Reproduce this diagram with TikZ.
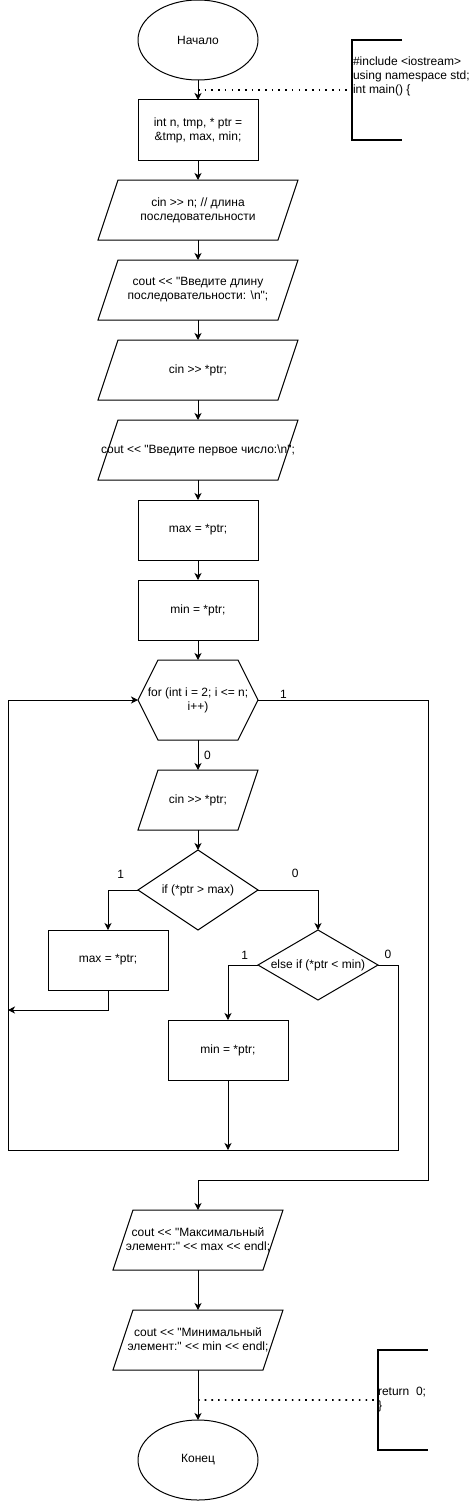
\documentclass[tikz,border=0pt]{standalone}
\usepackage{fontspec}
\newfontfamily\diafont{Liberation Sans}
\usetikzlibrary{arrows.meta, calc, positioning, shapes.geometric}
% slanted outline round a data node
\newcommand{\slantbox}[1]{\draw[outline] ([xshift=-10pt]#1.south west) -- ([xshift=10pt]#1.north west)
    -- ([xshift=10pt]#1.north east) -- ([xshift=-10pt]#1.south east) -- cycle;}

\begin{document}
\begin{tikzpicture}[
    x=1pt, y=-1pt,
    >={Stealth[length=7pt, width=7pt, inset=2pt]},
    every node/.style={font=\diafont\fontsize{12pt}{14pt}\selectfont,
                 inner sep=0pt, outer sep=0pt},
    outline/.style={line width=1pt},
    term/.style ={draw, ellipse, outline, minimum width=120pt, minimum height=80pt},
    proc/.style ={draw, outline, align=center, minimum width=120pt, minimum height=60pt},
    io/.style   ={align=center, minimum width=180pt, minimum height=60pt},
    cycle/.style={align=center, minimum width=120pt, minimum height=80pt},
    test/.style ={draw, diamond, outline, minimum width=120pt, minimum height=80pt},
    note/.style ={minimum width=50pt, minimum height=100pt},
    flow/.style ={->, line width=1pt},
    dots/.style ={line width=1.6pt, dash pattern=on 1.6pt off 5.1pt},
    bracket/.style={line width=2pt},
]
\useasboundingbox (0,0) rectangle (472,1501);
\node[term] (start) at (198,40) {Начало};
\node[proc, below=20pt of start]     (init)      {int n, tmp, * ptr =\\\&tmp, max, min;};
\node[io,   below=20pt of init]      (readn)     {cin >{}> n; // длина\\последовательности};
\node[io,   below=20pt of readn]     (asklen)    {cout <{}< "Введите длину\\последовательности: \textbackslash n";};
\node[io,   below=20pt of asklen]    (readfirst) {cin >{}> *ptr;};
\node[io,   below=20pt of readfirst] (askfirst)  {\makebox[0pt]{cout <{}< "Введите первое число:\textbackslash n";}};
\node[proc, below=20pt of askfirst]  (setmax)    {max = *ptr;};
\node[proc, below=20pt of setmax]    (setmin)    {min = *ptr;};
\node[cycle, below=20pt of setmin]   (forloop)   {for (int i = 2; i <= n;\\i++)};
\node[io,   below=30pt of forloop, minimum width=100pt] (readnext) {cin >{}> *ptr;};
\node[test, below=20pt of readnext]  (ifmax)     {\makebox[0pt]{if (*ptr > max)}};
\node[proc, below=40pt of ifmax.west, xshift=-30pt] (newmax) {max = *ptr;};
\node[test, below=40pt of ifmax.east, xshift=60pt, minimum height=70pt] (elsemin)
        {\makebox[0pt]{else if (*ptr < min)}};
\node[proc, below=55pt of elsemin.west, xshift=-30pt] (newmin) {min = *ptr;};
\node[io,   below=470pt of forloop, minimum width=150pt] (outmax)
        {cout <{}< "Максимальный\\элемент:" <{}< max <{}< endl;};
\node[io,   below=40pt of outmax, minimum width=150pt] (outmin)
        {cout <{}< "Минимальный\\элемент:" <{}< min <{}< endl;};
\node[term, below=50pt of outmin]    (stop)      {Конец};
\foreach \n in {readn, asklen, readfirst, askfirst, readnext, outmax, outmin}
    {\slantbox{\n}}
\draw[outline] (forloop.west) -- ([xshift=20pt]forloop.north west) -- ([xshift=-20pt]forloop.north east)
    -- (forloop.east) -- ([xshift=-20pt]forloop.south east) -- ([xshift=20pt]forloop.south west) -- cycle;
% comments at the side
\node[note] (head) at (377,90) {};
\node[anchor=west, align=left] (headtext) at (353,76)
        {\#include <iostream>\\using namespace std;\\int main() \{};
\node[note] (tail) at (402.5,1400) {};
\node[anchor=west, align=left] (tailtext) at (378,1400) {return~~0;\\\}};
\coordinate[below=70pt of newmin.south] (merge);
\coordinate (back) at (8,1150);
\coordinate (maxjoin) at (8,1010);
\coordinate[above=30pt of outmax.north] (exitturn);
\coordinate (c1) at ($(start.south)!0.5!(init.north)$);
\coordinate (c2) at ($(outmin.south)!0.6!(stop.north)$);
\draw[flow] (start)     -- (init);
\draw[flow] (init)      -- (readn);
\draw[flow] (readn)     -- (asklen);
\draw[flow] (asklen)    -- (readfirst);
\draw[flow] (readfirst) -- (askfirst);
\draw[flow] (askfirst)  -- (setmax);
\draw[flow] (setmax)    -- (setmin);
\draw[flow] (setmin)    -- (forloop);
\draw[flow] (forloop)   -- node[right=6pt]{0} (readnext);
\draw[flow] (readnext)  -- (ifmax);
\draw[flow] (ifmax.west) -| node[pos=0.29, above=12pt]{1} (newmax.north);
\draw[flow] (ifmax.east) -| node[pos=0.31, above=12pt]{0} (elsemin.north);
\draw[flow] (elsemin.west) -| node[pos=0.22, above=6pt]{1} (newmin.north);
\draw[flow] (newmin) -- (merge);
\draw[flow] (newmax.south) |- (maxjoin);
% loop back to the for header
\draw[flow] (elsemin.east) -- node[above=6pt]{0} ++(20,0) |- (back) |- (forloop.west);
% exit of the loop
\draw[flow] (forloop.east) -- node[pos=0.15, above=2pt]{1} ++(170,0) |- (exitturn) -- (outmax);
\draw[flow] (outmax) -- (outmin);
\draw[flow] (outmin) -- (stop);
\draw[dots] (c1) -- (head.west);
\draw[dots] (c2) -- (tail.west);
\draw[bracket] (head.north east) -- (head.north west) -- (head.south west) -- (head.south east);
\draw[bracket] (tail.north east) -- (tail.north west) -- (tail.south west) -- (tail.south east);
\end{tikzpicture}
\end{document}
